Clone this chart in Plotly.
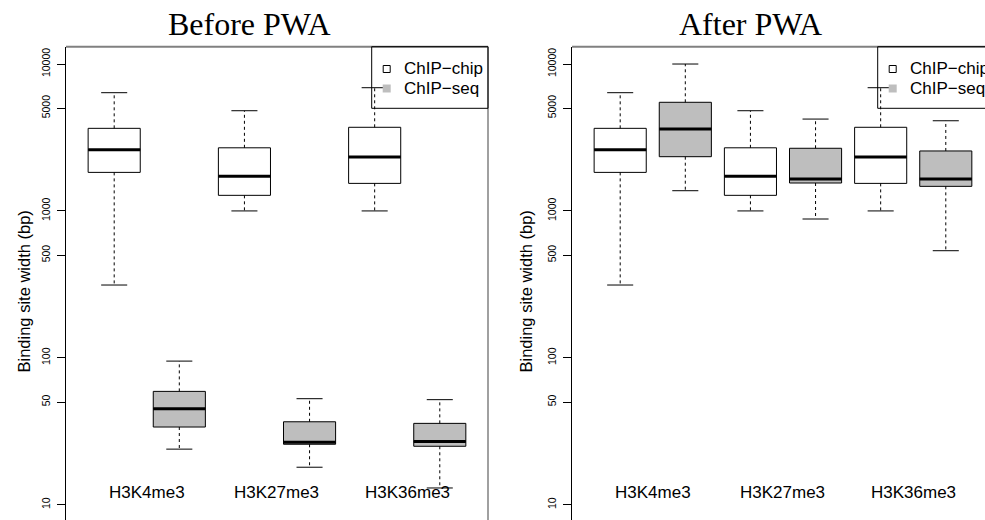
import plotly.graph_objects as go

# ---------------- data ----------------
categories = ["H3K4me3", "H3K27me3", "H3K36me3"]

# ChIP-chip (same before / after PWA)
chip_lower = [313, 1000, 1000]
chip_q1 = [1830, 1277, 1540]
chip_med = [2610, 1720, 2330]
chip_q3 = [3650, 2690, 3710]
chip_upper = [6380, 4810, 6900]

# ChIP-seq before PWA
seqb_lower = [23.9, 18.0, 13.0]
seqb_q1 = [33.8, 25.8, 25.0]
seqb_med = [45.1, 26.6, 26.9]
seqb_q3 = [59.1, 36.7, 35.8]
seqb_upper = [95, 52.7, 51.9]

# ChIP-seq after PWA
seqa_lower = [1373, 881, 536]
seqa_q1 = [2340, 1549, 1470]
seqa_med = [3610, 1650, 1650]
seqa_q3 = [5490, 2670, 2560]
seqa_upper = [10000, 4220, 4110]

panel_titles = ["Before PWA", "After PWA"]
legend_labels = ["ChIP\u2212chip", "ChIP\u2212seq"]
ytick_vals = [10, 50, 100, 500, 1000, 5000, 10000]
ytick_text = ["10", "50", "100", "500", "1000", "5000", "10000"]
y_title = "Binding site width (bp)"

# ---------------- layout helpers ----------------
W, H = 985, 520
GRAY = "#BEBEBE"
FONT = "Liberation Sans, Arial, sans-serif"
BOXW = 0.8
CAPW = 0.4


def px(x):
    return x / W


def py(y):
    return 1 - y / H


chip_pos = [1, 3, 5]
seq_pos = [2, 4, 6]

fig = go.Figure()


def add_group(pos, lower, q1, med, q3, upper, fill, xa, ya):
    fig.add_trace(go.Box(
        x=pos, q1=q1, median=med, q3=q3, lowerfence=q1, upperfence=q3,
        width=BOXW, fillcolor=fill, line=dict(color="black", width=1),
        whiskerwidth=0, xaxis=xa, yaxis=ya, showlegend=False, hoverinfo="skip",
    ))
    wx, wy, cx, cy, mx, my = [], [], [], [], [], []
    for p, lo, a, m, b, up in zip(pos, lower, q1, med, q3, upper):
        wx += [p, p, None, p, p, None]
        wy += [b, up, None, a, lo, None]
        cx += [p - CAPW / 2, p + CAPW / 2, None, p - CAPW / 2, p + CAPW / 2, None]
        cy += [up, up, None, lo, lo, None]
        mx += [p - BOXW / 2, p + BOXW / 2, None]
        my += [m, m, None]
    fig.add_trace(go.Scatter(x=wx, y=wy, mode="lines", xaxis=xa, yaxis=ya,
                             line=dict(color="black", width=1, dash="3px,3px"),
                             showlegend=False, hoverinfo="skip"))
    fig.add_trace(go.Scatter(x=cx, y=cy, mode="lines", xaxis=xa, yaxis=ya,
                             line=dict(color="black", width=1),
                             showlegend=False, hoverinfo="skip"))
    fig.add_trace(go.Scatter(x=mx, y=my, mode="lines", xaxis=xa, yaxis=ya,
                             line=dict(color="black", width=3),
                             showlegend=False, hoverinfo="skip"))


# left panel
add_group(chip_pos, chip_lower, chip_q1, chip_med, chip_q3, chip_upper, "white", "x", "y")
add_group(seq_pos, seqb_lower, seqb_q1, seqb_med, seqb_q3, seqb_upper, GRAY, "x", "y")
# right panel
add_group(chip_pos, chip_lower, chip_q1, chip_med, chip_q3, chip_upper, "white", "x2", "y2")
add_group(seq_pos, seqa_lower, seqa_q1, seqa_med, seqa_q3, seqa_upper, GRAY, "x2", "y2")

# panel geometry (pixels)
TOP = 46.7
UNIT = 65.12
panels = [dict(left=66, right=488, xa="x", ya="y", cx=250, ylab=23, yax="yaxis", xax="xaxis"),
          dict(left=572, right=994, xa="x2", ya="y2", cx=750, ylab=525, yax="yaxis2", xax="xaxis2")]

yrange = [0.896, 4.118]
shapes = []
annotations = []
for i, pnl in enumerate(panels):
    right_vis = min(pnl["right"], W)
    xr = [0.26, 0.26 + (right_vis - pnl["left"]) / UNIT]
    fig.layout[pnl["xax"]] = dict(domain=[px(pnl["left"]), px(right_vis)], range=xr,
                                 visible=False, anchor=pnl["ya"])
    fig.layout[pnl["yax"]] = dict(domain=[0, py(TOP)], range=yrange, type="log",
                                 anchor=pnl["xa"], tickvals=ytick_vals, ticktext=ytick_text,
                                 tickangle=-90, ticks="outside", ticklen=8, tickwidth=1,
                                 tickcolor="black", showline=True, linecolor="black",
                                 linewidth=1, showgrid=False, zeroline=False,
                                 ticklabelstandoff=3,
                                 tickfont=dict(family=FONT, size=10.5, color="black"))
    # top and right border
    shapes.append(dict(type="line", xref="paper", yref="paper",
                       x0=px(pnl["left"]), x1=px(pnl["right"]), y0=py(TOP), y1=py(TOP),
                       line=dict(color="#808080", width=2), layer="above"))
    shapes.append(dict(type="line", xref="paper", yref="paper",
                       x0=px(pnl["right"]), x1=px(pnl["right"]), y0=py(TOP), y1=0,
                       line=dict(color="#808080", width=1.5), layer="above"))
    # legend box
    lx = pnl["right"] - 116.3
    shapes.append(dict(type="rect", xref="paper", yref="paper",
                       x0=px(lx), x1=px(pnl["right"]), y0=py(108.3), y1=py(TOP),
                       line=dict(color="black", width=1), fillcolor="rgba(0,0,0,0)",
                       layer="above"))
    # legend symbols
    shapes.append(dict(type="rect", xref="paper", yref="paper",
                       x0=px(lx + 15 - 3.5), x1=px(lx + 15 + 3.5), y0=py(69 + 3.5), y1=py(69 - 3.5),
                       line=dict(color="black", width=1), fillcolor="white", layer="above"))
    shapes.append(dict(type="rect", xref="paper", yref="paper",
                       x0=px(lx + 15 - 4), x1=px(lx + 15 + 4), y0=py(88.5 + 4), y1=py(88.5 - 4),
                       line=dict(width=0), fillcolor=GRAY, layer="above"))
    for lab, yy in zip(legend_labels, [69, 88.5]):
        annotations.append(dict(text=lab, xref="paper", yref="paper", x=px(lx + 30), y=py(yy),
                                xanchor="left", yanchor="middle", showarrow=False,
                                font=dict(family=FONT, size=17, color="black")))
    # category labels
    for k, c in enumerate(categories):
        annotations.append(dict(text=c, xref=pnl["xa"], yref="paper",
                                x=(chip_pos[k] + seq_pos[k]) / 2, y=py(492.7),
                                xanchor="center", yanchor="middle", showarrow=False,
                                font=dict(family=FONT, size=17, color="black")))
    # y title
    annotations.append(dict(text=y_title, xref="paper", yref="paper", x=px(pnl["ylab"]),
                            y=py(291.5), textangle=-90, xanchor="center", yanchor="middle",
                            showarrow=False, font=dict(family=FONT, size=16.5, color="black")))
    # panel title
    annotations.append(dict(text=panel_titles[i], xref="paper", yref="paper", x=px(pnl["cx"]),
                            y=py(24), xanchor="center", yanchor="middle", showarrow=False,
                            font=dict(family="Liberation Serif, serif", size=32, color="black")))

fig.update_layout(width=W, height=H, margin=dict(l=0, r=0, t=0, b=0),
                  paper_bgcolor="white", plot_bgcolor="white", boxmode="overlay",
                  shapes=shapes, annotations=annotations, showlegend=False)

fig.write_html("out.html")
